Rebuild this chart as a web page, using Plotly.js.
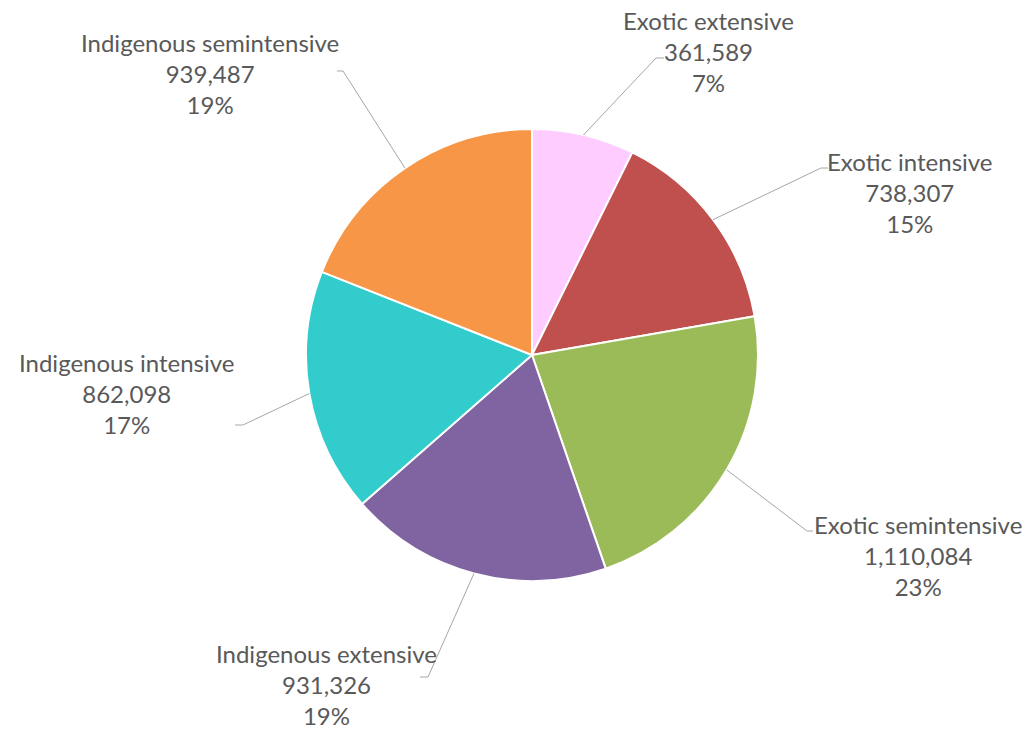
<!DOCTYPE html>
<html>
<head>
<meta charset="utf-8">
<script src="https://cdn.plot.ly/plotly-3.0.1.min.js"></script>
<style>html,body{margin:0;padding:0;background:#fff;}#chart{width:1029px;height:731px;}</style>
</head>
<body>
<div id="chart"></div>
<script>
const categories = ["Exotic extensive", "Exotic intensive", "Exotic semintensive", "Indigenous extensive", "Indigenous intensive", "Indigenous semintensive"];
const values = [361589, 738307, 1110084, 931326, 862098, 939487];
const valueLabels = ["361,589", "738,307", "1,110,084", "931,326", "862,098", "939,487"];
const percentLabels = ["7%", "15%", "23%", "19%", "17%", "19%"];
const colors = ["#FFCCFF", "#C0504D", "#9BBB59", "#8064A2", "#33CCCC", "#F79646"];

const W = 1029, H = 731;
const cx = 532, cy = 355, R = 226;
// label layout (pixel positions of label centre, and leader elbow / end)
const labelPos = [
  {x: 708, y: 51, ex: 656, ey: 58, hx: 664},
  {x: 910, y: 192, ex: 821, ey: 168, hx: 828},
  {x: 918, y: 555, ex: 807, ey: 531, hx: 813},
  {x: 326, y: 684, ex: 428, ey: 677, hx: 420},
  {x: 126, y: 393, ex: 243, ey: 425, hx: 235},
  {x: 210, y: 73, ex: 343, ey: 71, hx: 337}
];

const total = values.reduce((a, b) => a + b, 0);
const px = x => x / W, py = y => 1 - y / H;

const annotations = [];
const shapes = [];
let cum = 0;
values.forEach((v, i) => {
  const mid = (cum + v / 2) / total * 2 * Math.PI;
  cum += v;
  const sx = cx + R * Math.sin(mid), sy = cy - R * Math.cos(mid);
  const L = labelPos[i];
  shapes.push({
    type: 'path', xref: 'paper', yref: 'paper',
    path: `M${px(sx)},${py(sy)} L${px(L.ex)},${py(L.ey)} L${px(L.hx)},${py(L.ey)}`,
    line: {color: '#A6A6A6', width: 1}
  });
  annotations.push({
    xref: 'paper', yref: 'paper', x: px(L.x), y: py(L.y),
    xanchor: 'center', yanchor: 'middle', showarrow: false,
    text: categories[i] + '<br>' + valueLabels[i] + '<br>' + percentLabels[i],
    font: {family: 'Lato, sans-serif', size: 24, color: '#595959'},
    align: 'center', borderpad: 0
  });
});

const data = [{
  type: 'pie',
  labels: categories,
  values: values,
  sort: false,
  direction: 'clockwise',
  rotation: 0,
  textinfo: 'none',
  hoverinfo: 'label+value+percent',
  marker: {colors: colors, line: {color: '#FFFFFF', width: 2}},
  domain: {x: [(cx - R) / W, (cx + R) / W], y: [(H - cy - R) / H, (H - cy + R) / H]},
  showlegend: false
}];

const layout = {
  width: W, height: H,
  margin: {l: 0, r: 0, t: 0, b: 0},
  paper_bgcolor: '#FFFFFF',
  showlegend: false,
  annotations: annotations,
  shapes: shapes
};

Plotly.newPlot('chart', data, layout, {displayModeBar: false, staticPlot: true});
</script>
</body>
</html>
